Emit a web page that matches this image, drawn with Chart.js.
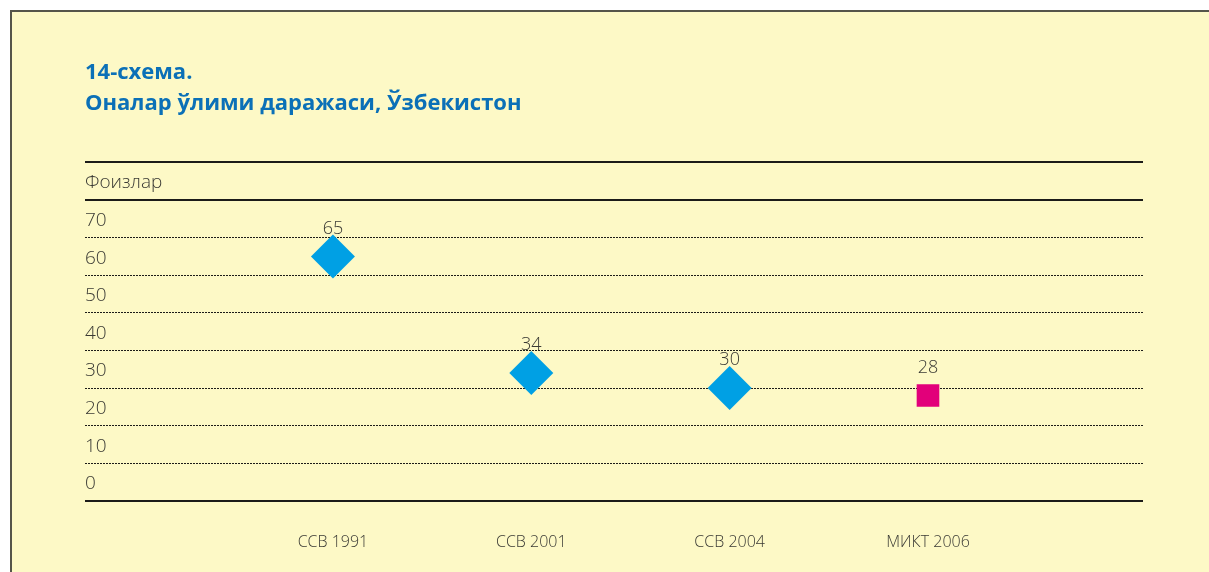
<!DOCTYPE html>
<html>
<head>
<meta charset="utf-8">
<script src="https://cdn.jsdelivr.net/npm/chart.js@4"></script>
<style>
    html, body { margin: 0; padding: 0; background: #ffffff; }
    #frame {
        position: absolute; left: 10px; top: 10px; right: 0; bottom: 0;
        background: #fdf9c6;
        border-top: 2px solid #55554a;
        border-left: 2px solid #55554a;
    }
    #wrap { position: absolute; left: 0; top: 0; width: 1209px; height: 572px; }
</style>
</head>
<body>
<div id="frame"></div>
<div id="wrap"><canvas id="chart"></canvas></div>
<script>
// Daten
const categories = ["ССВ 1991", "ССВ 2001", "ССВ 2004", "МИКТ 2006"];
const values = [65, 34, 30, 28];
const pointColors = ["#00a0e4", "#00a0e4", "#00a0e4", "#e2007a"];
const pointShapes = ["rectRot", "rectRot", "rectRot", "rect"];
const yTickLabels = { 0: "0", 10: "10", 20: "20", 30: "30", 40: "40", 50: "50", 60: "60", 70: "70", 80: "Фоизлар", 90: "" };

const textColor = "#3a3a34";
const labelFont = "'Open Sans', 'Noto Sans', sans-serif";

// Werte über den Punkten
const valueLabels = {
    id: "valueLabels",
    afterDatasetsDraw(chart) {
        const ctx = chart.ctx;
        const meta = chart.getDatasetMeta(0);
        ctx.save();
        ctx.font = "300 18px " + labelFont;
        ctx.fillStyle = textColor;
        ctx.textAlign = "center";
        ctx.textBaseline = "middle";
        meta.data.forEach((pt, i) => {
            ctx.fillText(String(values[i]), pt.x, pt.y - 28);
        });
        ctx.restore();
    }
};

document.addEventListener("DOMContentLoaded", () => {
    const ctx = document.getElementById("chart").getContext("2d");

    new Chart(ctx, {
        type: "scatter",
        data: {
            datasets: [{
                data: values.map((v, i) => ({ x: i, y: v })),
                backgroundColor: pointColors,
                borderColor: pointColors,
                borderWidth: 0,
                pointStyle: pointShapes,
                pointRadius: [22, 22, 22, 16],
                pointHoverRadius: [22, 22, 22, 16]
            }]
        },
        options: {
            responsive: true,
            maintainAspectRatio: false,
            animation: false,
            layout: { padding: { left: 85, right: 66, top: 57, bottom: -4 } },
            plugins: {
                legend: { display: false },
                tooltip: { enabled: false },
                title: {
                    display: true,
                    align: "start",
                    text: ["14-схема.", "Оналар ўлими даражаси, Ўзбекистон"],
                    color: "#0b70b7",
                    font: { family: labelFont, size: 22, weight: "bold", lineHeight: 1.42 },
                    padding: { top: 0, bottom: 43 }
                }
            },
            scales: {
                x: {
                    type: "linear",
                    min: -1.25,
                    max: 4.084,
                    afterBuildTicks: scale => {
                        scale.ticks = categories.map((c, i) => ({ value: i }));
                    },
                    grid: { display: false },
                    border: { display: false },
                    ticks: {
                        callback: v => categories[v] || "",
                        color: textColor,
                        font: { family: labelFont, size: 16, weight: "300" },
                        padding: 24,
                        maxRotation: 0
                    }
                },
                y: {
                    min: 0,
                    max: 90,
                    afterBuildTicks: scale => {
                        scale.ticks = Object.keys(yTickLabels).map(k => ({ value: Number(k) }));
                    },
                    grid: {
                        drawTicks: false,
                        color: "#1c1c18",
                        lineWidth: c => (c.tick && (c.tick.value === 0 || c.tick.value >= 80)) ? 2 : 1
                    },
                    border: {
                        display: false,
                        dash: c => (c.tick && (c.tick.value === 0 || c.tick.value >= 80)) ? [] : [2, 1]
                    },
                    ticks: {
                        mirror: true,
                        padding: 0,
                        labelOffset: -17,
                        callback: v => yTickLabels[v],
                        color: textColor,
                        font: { family: labelFont, size: 19, weight: "300" }
                    }
                }
            }
        },
        plugins: [valueLabels]
    });
});
</script>
</body>
</html>
